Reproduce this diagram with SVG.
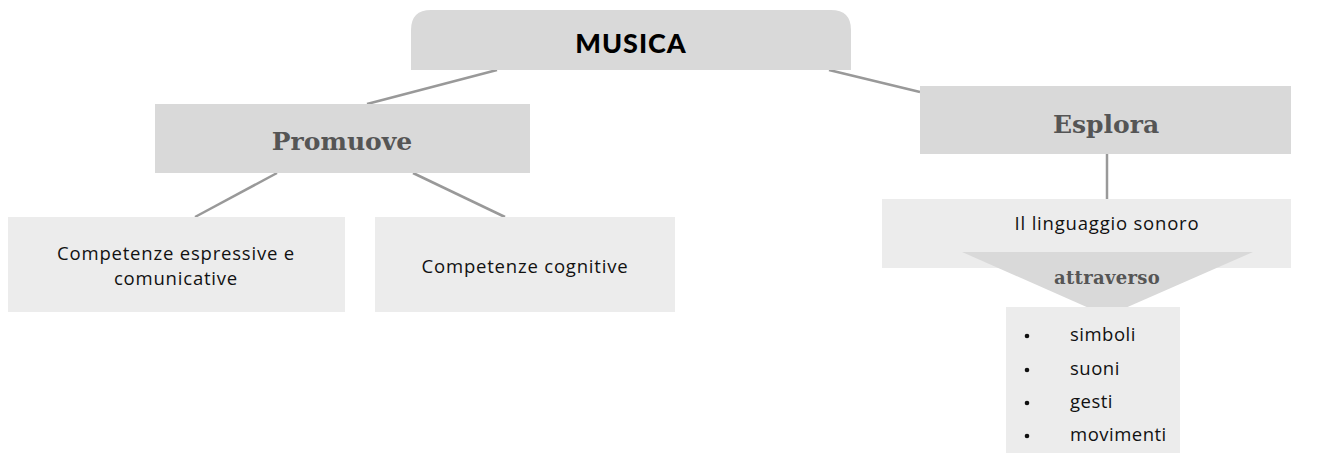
<svg xmlns="http://www.w3.org/2000/svg" width="1333" height="455" viewBox="0 0 1333 455">
<style>
.dark{fill:#d9d9d9}
.light{fill:#ececec}
.conn{stroke:#999;stroke-width:2.5;fill:none}
.t{font-family:"Open Sans","Liberation Sans",sans-serif;font-size:18.5px;letter-spacing:0.8px;fill:#111;text-anchor:middle}
.h{font-family:"DejaVu Serif","Liberation Serif",serif;font-weight:bold;fill:#555;text-anchor:middle}
</style>
<rect width="1333" height="455" fill="#fff"/>
<g id="connectors">
<line class="conn" x1="497" y1="70" x2="367" y2="104"/>
<line class="conn" x1="829" y1="70" x2="920" y2="92"/>
<line class="conn" x1="277" y1="173" x2="195" y2="217"/>
<line class="conn" x1="413" y1="173" x2="505" y2="217"/>
<line class="conn" x1="1107" y1="154" x2="1107" y2="199"/>
</g>
<g id="musica">
<path class="dark" d="M411,70 V30 Q411,10 431,10 H831 Q851,10 851,30 V70 Z"/>
<text x="631" y="53" font-family="Lato,'Liberation Sans',sans-serif" font-weight="900" font-size="27" letter-spacing="1" fill="#000" text-anchor="middle">MUSICA</text>
</g>
<g id="promuove">
<rect class="dark" x="155" y="104" width="375" height="69"/>
<text class="h" x="342" y="150" font-size="25">Promuove</text>
</g>
<g id="esplora">
<rect class="dark" x="920" y="86" width="371" height="68"/>
<text class="h" x="1106" y="133" font-size="25">Esplora</text>
</g>
<g id="espressive">
<rect class="light" x="8" y="217" width="337" height="95"/>
<text class="t" x="176" y="260">Competenze espressive e</text>
<text class="t" x="176" y="285">comunicative</text>
</g>
<g id="cognitive">
<rect class="light" x="375" y="217" width="300" height="95"/>
<text class="t" x="525" y="273">Competenze cognitive</text>
</g>
<g id="linguaggio">
<rect class="light" x="882" y="199" width="409" height="69"/>
<text class="t" x="1107" y="230">Il linguaggio sonoro</text>
</g>
<g id="attraverso">
<polygon class="dark" points="962,252 1253,252 1107,316"/>
<text class="h" x="1107" y="284" font-size="18" letter-spacing="0.3">attraverso</text>
</g>
<g id="lista">
<rect class="light" x="1006" y="307" width="174" height="146"/>
<g fill="#111">
<circle cx="1027" cy="336" r="2.3"/>
<circle cx="1027" cy="370" r="2.3"/>
<circle cx="1027" cy="403" r="2.3"/>
<circle cx="1027" cy="436" r="2.3"/>
</g>
<g font-family="'Open Sans','Liberation Sans',sans-serif" font-size="18.5" letter-spacing="0.5" fill="#111">
<text x="1070" y="341">simboli</text>
<text x="1070" y="375">suoni</text>
<text x="1070" y="408">gesti</text>
<text x="1070" y="441">movimenti</text>
</g>
</g>
</svg>
